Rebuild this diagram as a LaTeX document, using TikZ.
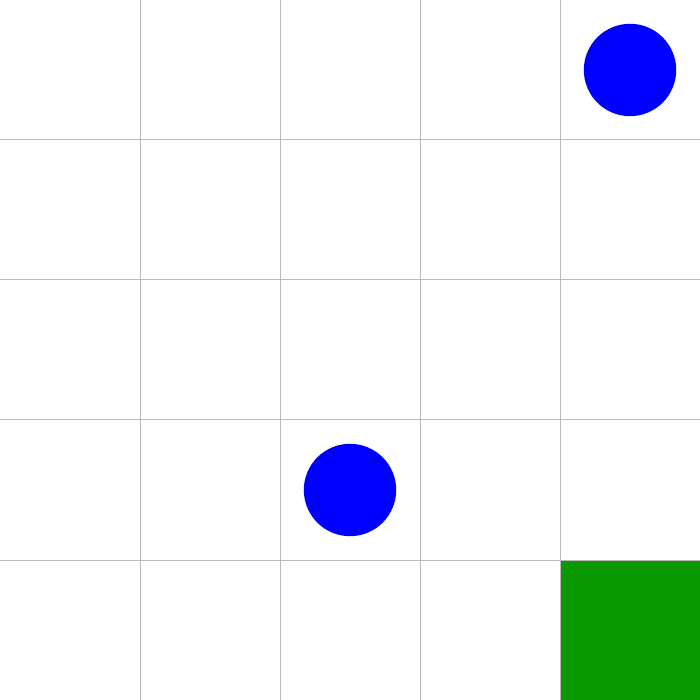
\documentclass[tikz,border=0pt]{standalone}
\definecolor{gridgray}{RGB}{185,185,185}
\definecolor{goalgreen}{RGB}{10,154,0}
\begin{document}
\begin{tikzpicture}[x=1cm, y=1cm,
  cell/.style={draw=gridgray, line width=0.2pt},
  goal/.style={fill=goalgreen},
  agent/.style={circle, fill=blue, inner sep=0pt, minimum size=0.66cm}]
  \useasboundingbox (0,0) rectangle (5,5);
  \fill[white] (0,0) rectangle (5,5);
  \fill[goal] (4,0) rectangle (5,1);
  \foreach \i in {1,...,4} {
    \draw[cell] (\i,0) -- (\i,5);
    \draw[cell] (0,\i) -- (5,\i);
  }
  \node[agent] (a1) at (4.5,4.5) {};
  \node[agent] (a2) at (2.5,1.5) {};
\end{tikzpicture}
\end{document}
